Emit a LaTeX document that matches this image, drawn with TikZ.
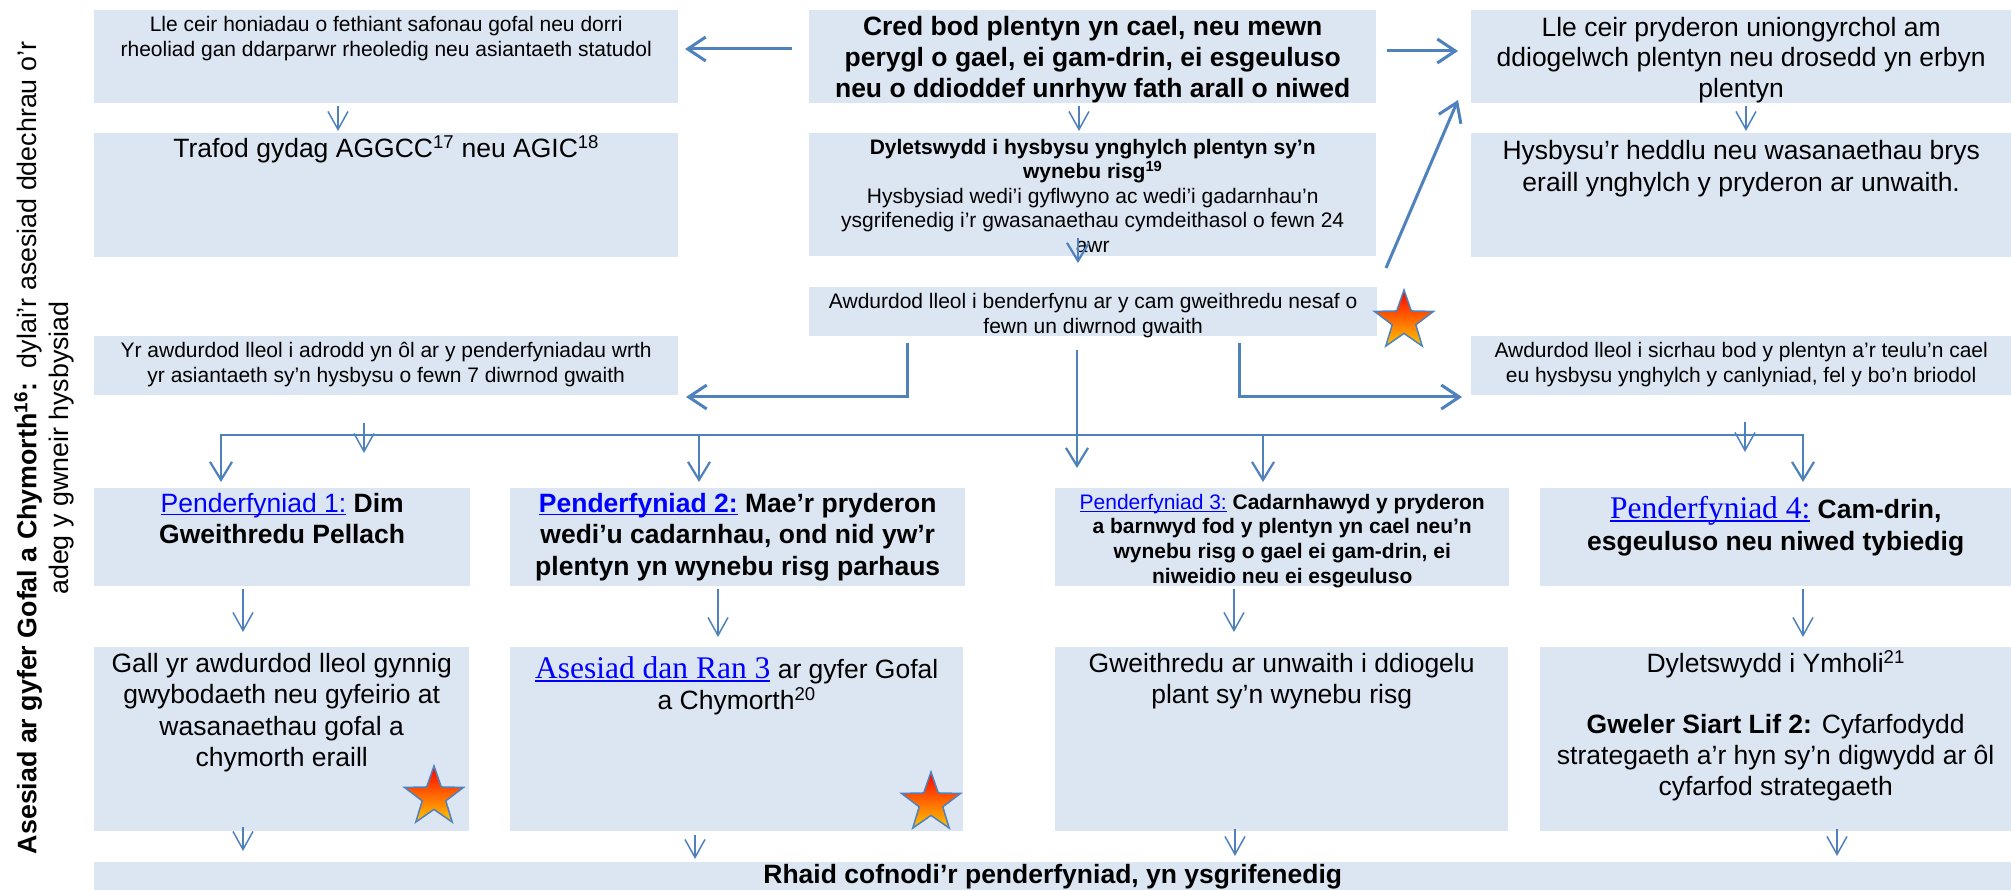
\documentclass[tikz,border=0pt]{standalone}
\usepackage{fontspec}
\setmainfont{Liberation Sans}
\newfontfamily\serifrm{Liberation Serif}
\usetikzlibrary{arrows.meta,shapes.geometric}
\definecolor{boxfill}{HTML}{DCE6F2}
\definecolor{arrowblue}{HTML}{4F81BD}
\definecolor{linkblue}{HTML}{0000FF}
\definecolor{starred}{HTML}{FF0000}
\definecolor{staryellow}{HTML}{FFC800}
\newcommand{\fsz}[2]{\fontsize{#1}{#2}\selectfont}
\newcommand{\lstrut}{\rule{0pt}{0.9em}}
\newcommand{\lnk}[1]{\textcolor{linkblue}{\setbox0\hbox{#1}\rlap{\rule[-0.13em]{\wd0}{0.06em}}\box0}}
\tikzset{
  bx/.style={fill=boxfill, draw=none, rectangle, anchor=north west, inner sep=0pt},
  tx/.style={anchor=north, align=center, inner sep=0pt},
  thin arrow/.style={draw=arrowblue, line width=1.5pt, -{Straight Barb[length=18pt,width=20pt]}},
  thick arrow/.style={draw=arrowblue, line width=3pt, -{Straight Barb[length=18pt,width=24pt]}},
  bus arrow/.style={draw=arrowblue, line width=2.2pt, line join=miter, -{Straight Barb[length=18pt,width=22pt]}},
  starshape/.style={star, star points=5, star point ratio=2.5, minimum size=62pt, inner sep=0pt,
    draw=arrowblue, line width=1.5pt, top color=starred, bottom color=staryellow}
}
\begin{document}
\begin{tikzpicture}[x=1pt,y=-1pt]
\useasboundingbox (0,0) rectangle (2011,890);
% boxes
\node[bx, minimum width=584pt, minimum height=93pt] (A) at (94,10) {};
\node[bx, minimum width=584pt, minimum height=124pt] (B) at (94,133) {};
\node[bx, minimum width=567pt, minimum height=93pt] (C) at (809,10) {};
\node[bx, minimum width=567pt, minimum height=123pt] (D) at (809,133) {};
\node[bx, minimum width=568pt, minimum height=49pt] (E) at (809,287) {};
\node[bx, minimum width=540pt, minimum height=93pt] (F) at (1471,10) {};
\node[bx, minimum width=540pt, minimum height=124pt] (G) at (1471,133) {};
\node[bx, minimum width=584pt, minimum height=59pt] (H) at (94,336) {};
\node[bx, minimum width=540pt, minimum height=59pt] (I) at (1471,336) {};
\node[bx, minimum width=376pt, minimum height=98pt] (P1) at (94,488) {};
\node[bx, minimum width=455pt, minimum height=98pt] (P2) at (510,488) {};
\node[bx, minimum width=454pt, minimum height=98pt] (P3) at (1055,488) {};
\node[bx, minimum width=471pt, minimum height=98pt] (P4) at (1540,488) {};
\node[bx, minimum width=375pt, minimum height=184pt] (J) at (94,647) {};
\node[bx, minimum width=453pt, minimum height=184pt] (K) at (510,647) {};
\node[bx, minimum width=453pt, minimum height=184pt] (L) at (1055,647) {};
\node[bx, minimum width=471pt, minimum height=184pt] (M) at (1540,647) {};
\node[bx, minimum width=1917pt, minimum height=30pt] (R) at (94,862) {};
% texts
\node[tx, font=\fsz{21}{25}] (At) at ([yshift=-2pt]A.north) {\lstrut Lle ceir honiadau o fethiant safonau gofal neu dorri\\rheoliad gan ddarparwr rheoledig neu asiantaeth statudol};
\node[tx, font=\fsz{26.5}{31}] (Bt) at ([yshift=0pt]B.north) {\lstrut Trafod gydag AGGCC\textsuperscript{17} neu AGIC\textsuperscript{18}};
\node[tx, font=\bfseries\fsz{26.5}{31}] (Ct) at ([yshift=-1pt]C.north) {\lstrut Cred bod plentyn yn cael, neu mewn\\perygl o gael, ei gam-drin, ei esgeuluso\\neu o ddioddef unrhyw fath arall o niwed};
\node[tx, font=\fsz{21}{24.5}] (Dt) at ([yshift=-2pt]D.north) {\lstrut\textbf{Dyletswydd i hysbysu ynghylch plentyn sy’n}\\\textbf{wynebu risg\textsuperscript{19}}\\Hysbysiad wedi’i gyflwyno ac wedi’i gadarnhau’n\\ysgrifenedig i’r gwasanaethau cymdeithasol o fewn 24\\awr};
\node[tx, font=\fsz{21}{25}] (Et) at ([yshift=-2pt]E.north) {\lstrut Awdurdod lleol i benderfynu ar y cam gweithredu nesaf o\\fewn un diwrnod gwaith};
\node[tx, font=\fsz{26.5}{30.5}] (Ft) at ([yshift=-2pt]F.north) {\lstrut Lle ceir pryderon uniongyrchol am\\ddiogelwch plentyn neu drosedd yn erbyn\\plentyn};
\node[tx, font=\fsz{26.5}{32}] (Gt) at ([yshift=-2pt]G.north) {\lstrut Hysbysu’r heddlu neu wasanaethau brys\\eraill ynghylch y pryderon ar unwaith.};
\node[tx, font=\fsz{21}{25}] (Ht) at ([yshift=-2pt]H.north) {\lstrut Yr awdurdod lleol i adrodd yn ôl ar y penderfyniadau wrth\\yr asiantaeth sy’n hysbysu o fewn 7 diwrnod gwaith};
\node[tx, font=\fsz{21}{25}] (It) at ([yshift=-2pt]I.north) {\lstrut Awdurdod lleol i sicrhau bod y plentyn a’r teulu’n cael\\eu hysbysu ynghylch y canlyniad, fel y bo’n briodol};
\node[tx, font=\fsz{26.5}{31}] (P1t) at ([yshift=0pt]P1.north) {\lstrut\lnk{Penderfyniad 1:} \textbf{Dim}\\\textbf{Gweithredu Pellach}};
\node[tx, font=\bfseries\fsz{26.5}{31.5}] (P2t) at ([yshift=0pt]P2.north) {\lstrut\lnk{Penderfyniad 2:} Mae’r pryderon\\wedi’u cadarnhau, ond nid yw’r\\plentyn yn wynebu risg parhaus};
\node[tx, font=\fsz{21}{24.7}] (P3t) at ([yshift=-2pt]P3.north) {\lstrut\lnk{Penderfyniad 3:} \textbf{Cadarnhawyd y pryderon}\\\textbf{a barnwyd fod y plentyn yn cael neu’n}\\\textbf{wynebu risg o gael ei gam-drin, ei}\\\textbf{niweidio neu ei esgeuluso}};
\node[tx, font=\fsz{26.5}{32}] (P4t) at ([yshift=-6pt]P4.north) {\lstrut{\serifrm\fontsize{31.5}{32}\selectfont\lnk{Penderfyniad 4:}} \textbf{Cam-drin,}\\\textbf{esgeuluso neu niwed tybiedig}};
\node[tx, font=\fsz{26.5}{31.5}] (Jt) at ([yshift=-1pt]J.north) {\lstrut Gall yr awdurdod lleol gynnig\\gwybodaeth neu gyfeirio at\\wasanaethau gofal a\\chymorth eraill};
\node[tx, font=\fsz{26.5}{31}] (Kt) at ([yshift=-7pt]K.north) {\lstrut{\serifrm\fontsize{31.5}{31}\selectfont\lnk{Asesiad dan Ran 3}} ar gyfer Gofal\\a Chymorth\textsuperscript{20}};
\node[tx, font=\fsz{26.5}{31}] (Lt) at ([yshift=-1pt]L.north) {\lstrut Gweithredu ar unwaith i ddiogelu\\plant sy’n wynebu risg};
\node[tx, font=\fsz{26.5}{31}] (Mt) at ([yshift=-1pt]M.north) {\lstrut Dyletswydd i Ymholi\textsuperscript{21}\\[30pt]\textbf{Gweler Siart Lif 2:} Cyfarfodydd\\strategaeth a’r hyn sy’n digwydd ar ôl\\cyfarfod strategaeth};
\node[tx, font=\bfseries\fsz{26.5}{31}] (Rt) at ([yshift=3pt]R.north) {\lstrut Rhaid cofnodi’r penderfyniad, yn ysgrifenedig};
% side label
\node[rotate=90, align=center, inner sep=0pt, font=\fsz{26.8}{32}] (side) at (44,448) {\textbf{Asesiad ar gyfer Gofal a Chymorth\textsuperscript{16}:}\ \ dylai’r asesiad ddechrau o’r\\adeg y gwneir hysbysiad};
% stars
\node[starshape] (s1) at (1404,321) {};
\node[starshape] (s2) at (434,797) {};
\node[starshape] (s3) at (931,803) {};
% connector coordinates
\coordinate (CAs) at (792,49); \coordinate (CAe) at (685,49);
\coordinate (CFs) at (1387,51); \coordinate (CFe) at (1458,51);
\coordinate (ABs) at (338,106); \coordinate (ABe) at (338,131);
\coordinate (CDs) at (1079,106); \coordinate (CDe) at (1079,131);
\coordinate (FGs) at (1746,106); \coordinate (FGe) at (1746,131);
\coordinate (DEs) at (1078,238); \coordinate (DEe) at (1078,263);
\coordinate (EFs) at (1386,268); \coordinate (EFe) at (1458,100);
\coordinate (EHs) at (907,343); \coordinate (EHe) at (686,397);
\coordinate (EIs) at (1239,343); \coordinate (EIe) at (1462,397);
\coordinate (EBs) at (1077,350); \coordinate (EBe) at (1077,468);
\coordinate (busC) at (699,435);
\coordinate (d1) at (221,482); \coordinate (d2) at (699,482);
\coordinate (d3) at (1263,482); \coordinate (d4) at (1803,482);
\coordinate (HBs) at (364,423); \coordinate (HBe) at (364,453);
\coordinate (IBs) at (1745,422); \coordinate (IBe) at (1745,452);
\coordinate (P1s) at (243,589); \coordinate (P1e) at (243,632);
\coordinate (P2s) at (718,589); \coordinate (P2e) at (718,637);
\coordinate (P3s) at (1234,589); \coordinate (P3e) at (1234,632);
\coordinate (P4s) at (1803,589); \coordinate (P4e) at (1803,637);
\coordinate (Js) at (243,827); \coordinate (Je) at (243,851);
\coordinate (Ks) at (695,835); \coordinate (Ke) at (695,859);
\coordinate (Ls) at (1235,829); \coordinate (Le) at (1235,856);
\coordinate (Ms) at (1837,829); \coordinate (Me) at (1837,856);
% connectors
\draw[thick arrow] (CAs) -- (CAe);
\draw[thick arrow] (CFs) -- (CFe);
\draw[thin arrow] (ABs) -- (ABe);
\draw[thin arrow] (CDs) -- (CDe);
\draw[thin arrow] (FGs) -- (FGe);
\draw[bus arrow] (DEs) -- (DEe);
\draw[thick arrow] (EFs) -- (EFe);
\draw[thick arrow] (EHs) |- (EHe);
\draw[thick arrow] (EIs) |- (EIe);
\draw[bus arrow] (busC) -| (d1);
\draw[bus arrow] (busC) -| (d4);
\draw[bus arrow] (busC) -- (d2);
\draw[bus arrow] (busC -| d3) -- (d3);
\draw[bus arrow] (EBs) -- (EBe);
\draw[thin arrow] (HBs) -- (HBe);
\draw[thin arrow] (IBs) -- (IBe);
\draw[thin arrow] (P1s) -- (P1e);
\draw[thin arrow] (P2s) -- (P2e);
\draw[thin arrow] (P3s) -- (P3e);
\draw[thin arrow] (P4s) -- (P4e);
\draw[thin arrow] (Js) -- (Je);
\draw[thin arrow] (Ks) -- (Ke);
\draw[thin arrow] (Ls) -- (Le);
\draw[thin arrow] (Ms) -- (Me);
\end{tikzpicture}
\end{document}
